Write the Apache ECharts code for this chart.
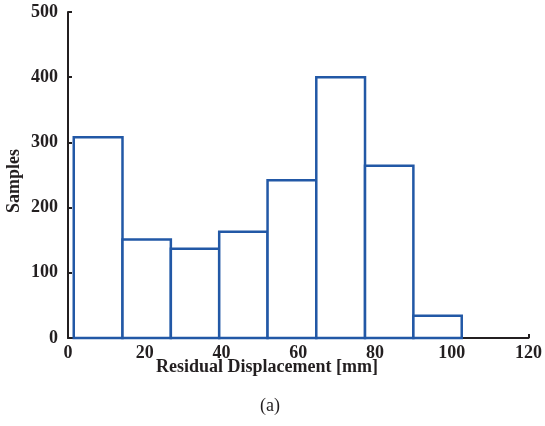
<!DOCTYPE html>
<html>
<head>
<meta charset="utf-8">
<style>
  html, body { margin: 0; padding: 0; background: #fff; }
  #chart { width: 545px; height: 426px; }
</style>
<script src="https://cdn.jsdelivr.net/npm/echarts@6/dist/echarts.min.js"></script>
</head>
<body>
<div id="chart"></div>
<script>
// Histogram of residual displacement: bin edges (mm) and sample counts per bin
const binEdges = [1.5, 14.2, 26.8, 39.4, 52.0, 64.7, 77.4, 90.0, 102.6];
const counts = [308, 151, 137, 163, 242, 400, 264, 34];
const xTicks = [0, 20, 40, 60, 80, 100, 120];
const yTicks = [0, 100, 200, 300, 400, 500];
const xTitle = 'Residual Displacement [mm]';
const yTitle = 'Samples';
const caption = '(a)';

const bins = counts.map((c, i) => [binEdges[i], binEdges[i + 1], c]);

const serif = '"Liberation Serif", "DejaVu Serif", serif';
const axisColor = '#231f20';
const barColor = '#2258a6';

const chart = echarts.init(document.getElementById('chart'), null, { renderer: 'canvas' });
chart.setOption({
  animation: false,
  backgroundColor: '#fff',
  grid: { left: 68, right: 12, top: 12, bottom: 88 },
  xAxis: {
    type: 'value',
    min: xTicks[0],
    max: xTicks[xTicks.length - 1],
    interval: 20,
    axisLine: { lineStyle: { color: axisColor, width: 2 } },
    axisTick: { inside: true, length: 4, lineStyle: { color: axisColor, width: 2 } },
    axisLabel: { fontFamily: serif, fontWeight: 'bold', fontSize: 18, color: axisColor, margin: 6 },
    splitLine: { show: false }
  },
  yAxis: {
    type: 'value',
    min: yTicks[0],
    max: yTicks[yTicks.length - 1],
    interval: 100,
    axisLine: { show: true, lineStyle: { color: axisColor, width: 2 } },
    axisTick: { show: true, inside: true, length: 4, lineStyle: { color: axisColor, width: 2 } },
    axisLabel: { fontFamily: serif, fontWeight: 'bold', fontSize: 18, color: axisColor, margin: 10 },
    splitLine: { show: false }
  },
  graphic: [
    {
      type: 'text',
      x: 267,
      y: 367,
      style: {
        text: xTitle, font: 'bold 18px ' + serif, fill: axisColor,
        align: 'center', verticalAlign: 'middle'
      }
    },
    {
      type: 'text',
      x: 14,
      y: 181,
      rotation: Math.PI / 2,
      style: {
        text: yTitle, font: 'bold 18px ' + serif, fill: axisColor,
        align: 'center', verticalAlign: 'middle'
      }
    },
    {
      type: 'text',
      x: 270,
      y: 406,
      style: {
        text: caption, font: '18px ' + serif, fill: axisColor,
        align: 'center', verticalAlign: 'middle'
      }
    }
  ],
  series: [{
    type: 'custom',
    data: bins,
    encode: { x: [0, 1], y: 2 },
    renderItem: function (params, api) {
      const p0 = api.coord([api.value(0), 0]);
      const p1 = api.coord([api.value(1), api.value(2)]);
      return {
        type: 'rect',
        shape: { x: p0[0], y: p1[1], width: p1[0] - p0[0], height: p0[1] - p1[1] },
        style: { fill: '#fff', stroke: barColor, lineWidth: 2.5 }
      };
    }
  }]
});
</script>
</body>
</html>
